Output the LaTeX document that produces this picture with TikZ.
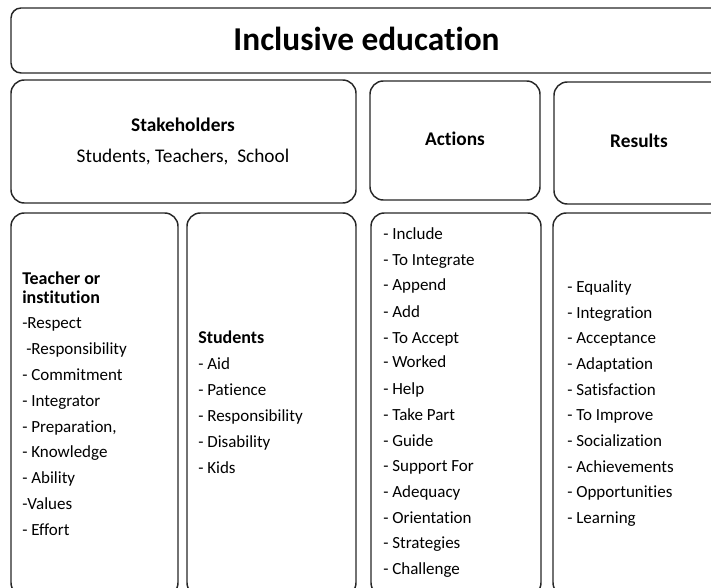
\documentclass[tikz,border=0pt]{standalone}
\usepackage{fontspec}
\setmainfont{Carlito}[Ligatures={NoCommon,NoRare,NoContextual},RawFeature={-liga;-clig;-dlig}]
\begin{document}
\begin{tikzpicture}[x=0.75pt,y=0.75pt,yscale=-1,xscale=1,
  box/.style={draw=black!85, line width=1.1pt, rounded corners=10pt},
  head/.style={anchor=base, inner sep=0.75pt, font=\fontsize{14.5}{17}\selectfont\bfseries},
  sub/.style={anchor=base west, inner sep=0.75pt, font=\fontsize{13.5}{16}\selectfont\bfseries},
  item/.style={anchor=base west, inner sep=0.75pt, font=\fontsize{12.75}{15}\selectfont}]
%set diagram to 711 x 588
\clip (0,0) rectangle (711,588);

%Rounded Rect: title
\draw [box, rounded corners=7.5pt] (11,8) rectangle (730,73) ;
%Rounded Rect: stakeholders
\draw [box] (11,80) rectangle (356,203) ;
%Rounded Rect: actions
\draw [box] (370,81) rectangle (540,200) ;
%Rounded Rect: results
\draw [box] (554,82) rectangle (730,204) ;
%Rounded Rect: teacher
\draw [box] (11,213) rectangle (178,596) ;
%Rounded Rect: students
\draw [box] (187,213) rectangle (356,596) ;
%Rounded Rect: action list
\draw [box] (371,213) rectangle (541,596) ;
%Rounded Rect: result list
\draw [box] (553,213) rectangle (730,596) ;

% Text Node
\node [head, font=\fontsize{25}{30}\selectfont\bfseries] (title) at (366.5,51) {Inclusive education};
% Text Node
\node [head] (stake) at (183,132) {Stakeholders};
\node [head, font=\fontsize{14.5}{17}\selectfont] (stakelist) at (183,163) {Students, Teachers, \ School};
% Text Node
\node [head] (actions) at (455,146) {Actions};
% Text Node
\node [head] (results) at (639,148) {Results};

% Teacher or institution
\node [sub] (teacher) at (21,285) {Teacher or};
\node [sub] (institution) at (21,303) {institution};
\node [item] (tch1) at (21,328) {-Respect};
\node [item] (tch2) at (21,354) {\kern3pt-Responsibility};
\node [item] (tch3) at (21,380) {- Commitment};
\node [item] (tch4) at (21,406) {- Integrator};
\node [item] (tch5) at (21,432) {- Preparation,};
\node [item] (tch6) at (21,457) {- Knowledge};
\node [item] (tch7) at (21,483) {- Ability};
\node [item] (tch8) at (21,509) {-Values};
\node [item] (tch9) at (21,535) {- Effort};

% Students
\node [sub] (students) at (197,343) {Students};
\node [item] (stu1) at (197,369) {- Aid};
\node [item] (stu2) at (197,395) {- Patience};
\node [item] (stu3) at (197,421) {- Responsibility};
\node [item] (stu4) at (197,447) {- Disability};
\node [item] (stu5) at (197,473) {- Kids};

% Actions
\node [item] (act1) at (382,240) {- Include};
\node [item] (act2) at (382,266) {- To Integrate};
\node [item] (act3) at (382,291) {- Append};
\node [item] (act4) at (382,317) {- Add};
\node [item] (act5) at (382,343) {- To Accept};
\node [item] (act6) at (382,368) {- Worked};
\node [item] (act7) at (382,394) {- Help};
\node [item] (act8) at (382,420) {- Take Part};
\node [item] (act9) at (382,446) {- Guide};
\node [item] (act10) at (382,471) {- Support For};
\node [item] (act11) at (382,497) {- Adequacy};
\node [item] (act12) at (382,523) {- Orientation};
\node [item] (act13) at (382,548) {- Strategies};
\node [item] (act14) at (382,574) {- Challenge};

% Results
\node [item] (res1) at (566,292) {- Equality};
\node [item] (res2) at (566,318) {- Integration};
\node [item] (res3) at (566,343) {- Acceptance};
\node [item] (res4) at (566,369) {- Adaptation};
\node [item] (res5) at (566,395) {- Satisfaction};
\node [item] (res6) at (566,420) {- To Improve};
\node [item] (res7) at (566,446) {- Socialization};
\node [item] (res8) at (566,472) {- Achievements};
\node [item] (res9) at (566,497) {- Opportunities};
\node [item] (res10) at (566,523) {- Learning};

\end{tikzpicture}
\end{document}
